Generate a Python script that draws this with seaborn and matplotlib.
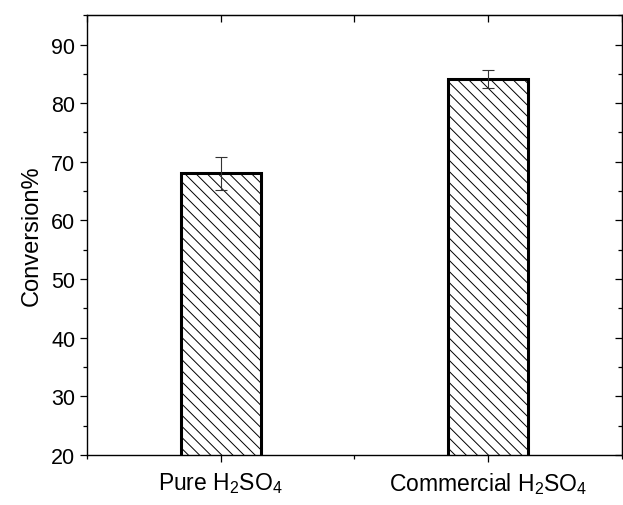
import matplotlib
matplotlib.use("Agg")
import matplotlib.pyplot as plt
import seaborn as sns
import pandas as pd
from matplotlib.ticker import MultipleLocator

# Data
categories = ["Pure H$_2$SO$_4$", "Commercial H$_2$SO$_4$"]
conversion = [68.0, 84.1]
errors = [2.8, 1.5]

df = pd.DataFrame({"Catalyst": categories, "Conversion": conversion})

sns.set_style("ticks")
plt.rcParams["font.family"] = ["Liberation Sans", "DejaVu Sans"]
plt.rcParams["mathtext.fontset"] = "custom"
plt.rcParams["mathtext.rm"] = "Liberation Sans"
plt.rcParams["mathtext.it"] = "Liberation Sans:italic"
plt.rcParams["hatch.linewidth"] = 0.7
plt.rcParams["hatch.color"] = "black"
plt.rcParams["text.color"] = "black"
plt.rcParams["axes.labelcolor"] = "black"
plt.rcParams["xtick.color"] = "black"
plt.rcParams["ytick.color"] = "black"

fig = plt.figure(figsize=(6.23, 5.06), dpi=100)
ax = fig.add_axes([0.14, 0.099, 0.858, 0.869])

sns.barplot(data=df, x="Catalyst", y="Conversion", width=0.3, color="white",
            edgecolor="black", linewidth=2.2, hatch="\\\\\\", ax=ax)
ax.errorbar(range(len(conversion)), conversion, yerr=errors, fmt="none",
            ecolor="#333333", elinewidth=0.8, capsize=4, capthick=0.8)

ax.set_xlim(-0.5, 1.5)
ax.set_ylim(20, 95)
ax.yaxis.set_major_locator(MultipleLocator(10))
ax.yaxis.set_minor_locator(MultipleLocator(5))
ax.set_xticks([0, 1])
ax.set_xticks([-0.5, 0.5, 1.5], minor=True)
ax.set_xticklabels(categories)

ax.set_xlabel("")
ax.set_ylabel("Conversion%", fontsize=17, labelpad=6)
ax.tick_params(axis="both", which="major", length=5, width=0.9)
ax.tick_params(axis="y", which="major", labelsize=15.5)
ax.tick_params(axis="x", which="major", labelsize=16.5, pad=6)
ax.tick_params(axis="both", which="minor", length=3, width=0.9)

for s in ax.spines.values():
    s.set_visible(True)
    s.set_linewidth(1.0)
    s.set_color("black")

# mirrored inward ticks on top and right
top = ax.secondary_xaxis("top")
top.set_xticks([0, 1])
top.set_xticks([-0.5, 0.5, 1.5], minor=True)
top.tick_params(which="major", direction="in", length=5, width=0.9, labeltop=False)
top.tick_params(which="minor", direction="in", length=5, width=0.9)
top.set_xticklabels([])
right = ax.secondary_yaxis("right")
right.yaxis.set_major_locator(MultipleLocator(10))
right.yaxis.set_minor_locator(MultipleLocator(5))
right.tick_params(which="major", direction="in", length=5, width=0.9, labelright=False)
right.tick_params(which="minor", direction="in", length=3, width=0.9)
right.set_yticklabels([])

fig.savefig("out.png", dpi=100)
